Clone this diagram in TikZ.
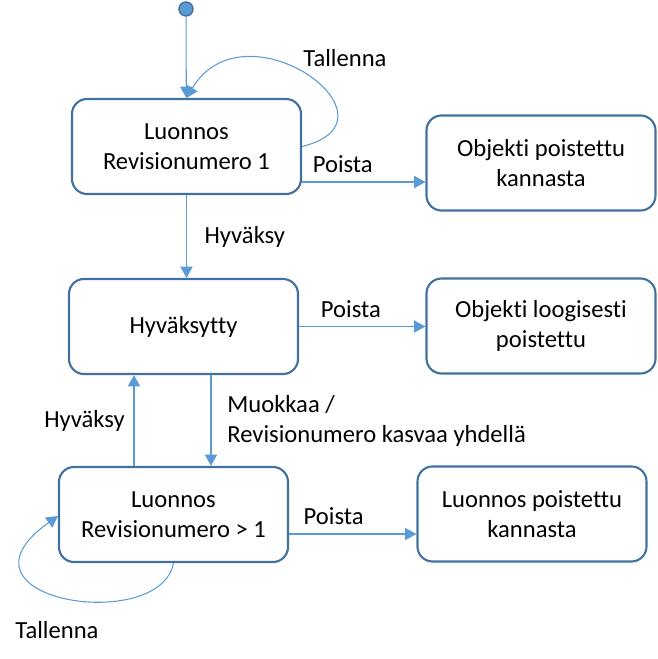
\documentclass[tikz,border=0pt]{standalone}
\usepackage{fontspec}
\setmainfont{Carlito}[Ligatures=NoCommon]
\usetikzlibrary{calc, arrows.meta, positioning}
\definecolor{linecol}{HTML}{5B9BD5}
\definecolor{boxcol}{HTML}{41719C}

\begin{document}
\begin{tikzpicture}[x=0.2mm, y=-0.2mm, >={Triangle[length=6.5pt, width=7pt]}]
		\tikzstyle{statebox} = [draw=boxcol, line width=1.2pt, rounded corners=3mm, minimum width=45.8mm, minimum height=19mm, align=center, font=\fontsize{14pt}{17pt}\selectfont]
		\tikzstyle{lbl} = [draw=none, inner sep=2pt, font=\fontsize{14pt}{17pt}\selectfont]
		\tikzstyle{arrow} = [draw=linecol, line width=0.6pt, ->]
		\tikzstyle{dot} = [circle, fill=linecol, draw=boxcol, line width=0.8pt, minimum size=2.8mm, inner sep=0pt]
		
		\useasboundingbox (0,0) rectangle (658,659);
		
		\node[dot] 		at (186, 9) 		(start) 		{};
		\node[statebox] at (186.5, 146.5) 	(luonnos1) 		{Luonnos\\Revisionumero 1};
		\node[statebox] at (541, 163) 		(poistettu) 	{Objekti poistettu\\kannasta};
		\node[statebox] at (183.5, 326.5) 	(hyvaksytty) 	{Hyväksytty};
		\node[statebox] at (541, 326) 		(loogisesti) 	{Objekti loogisesti\\poistettu};
		\node[statebox] at (173.5, 514.5) 	(luonnos2) 		{Luonnos\\Revisionumero > 1};
		\node[statebox] at (532, 514) 		(poistettu2) 	{Luonnos poistettu\\kannasta};
		
		\coordinate (p1) at ($(luonnos1.east)+(0, 35.5)$);
		\coordinate (p2) at ($(luonnos2.east)+(0, 19.5)$);
		\coordinate (p3) at ($(luonnos2.north)+(-39.5, 0)$);
		\coordinate (p4) at ($(hyvaksytty.south)+(27.5, 0)$);
		
		\draw[arrow] (start) -- (luonnos1);
		\draw[arrow] (luonnos1.east) .. controls (410, 120) and (245, 0) .. (luonnos1.north);
		\draw[arrow] (p1) -- node[lbl, above=3pt, pos=0.33] (poista1) {Poista} (p1 -| poistettu.west);
		\draw[arrow] (luonnos1.south) -- node[lbl, right=8pt] (hyvaksy1) {Hyväksy} (luonnos1.south |- hyvaksytty.north);
		\draw[arrow] (hyvaksytty.east) -- node[lbl, above=3pt, pos=0.41] (poista2) {Poista} (hyvaksytty.east -| loogisesti.west);
		\draw[arrow] (p3) -- node[lbl, left=3pt] (hyvaksy2) {Hyväksy} (p3 |- hyvaksytty.south);
		\draw[arrow] (p4) -- node[lbl, right=7pt, align=left] (muokkaa) {Muokkaa /\\Revisionumero kasvaa yhdellä} (p4 |- luonnos2.north);
		\draw[arrow] (p2) -- node[lbl, above=3pt, pos=0.35] (poista3) {Poista} (p2 -| poistettu2.west);
		\draw[arrow] (luonnos2.south) .. controls (160, 635) and (-60, 600) .. ($(luonnos2.west)+(0, 1.5)$);
		
		\node[lbl] at (345, 58) 	(tallenna1) {Tallenna};
		\node[lbl] at (57, 630) 	(tallenna2) {Tallenna};
	\end{tikzpicture}
\end{document}
